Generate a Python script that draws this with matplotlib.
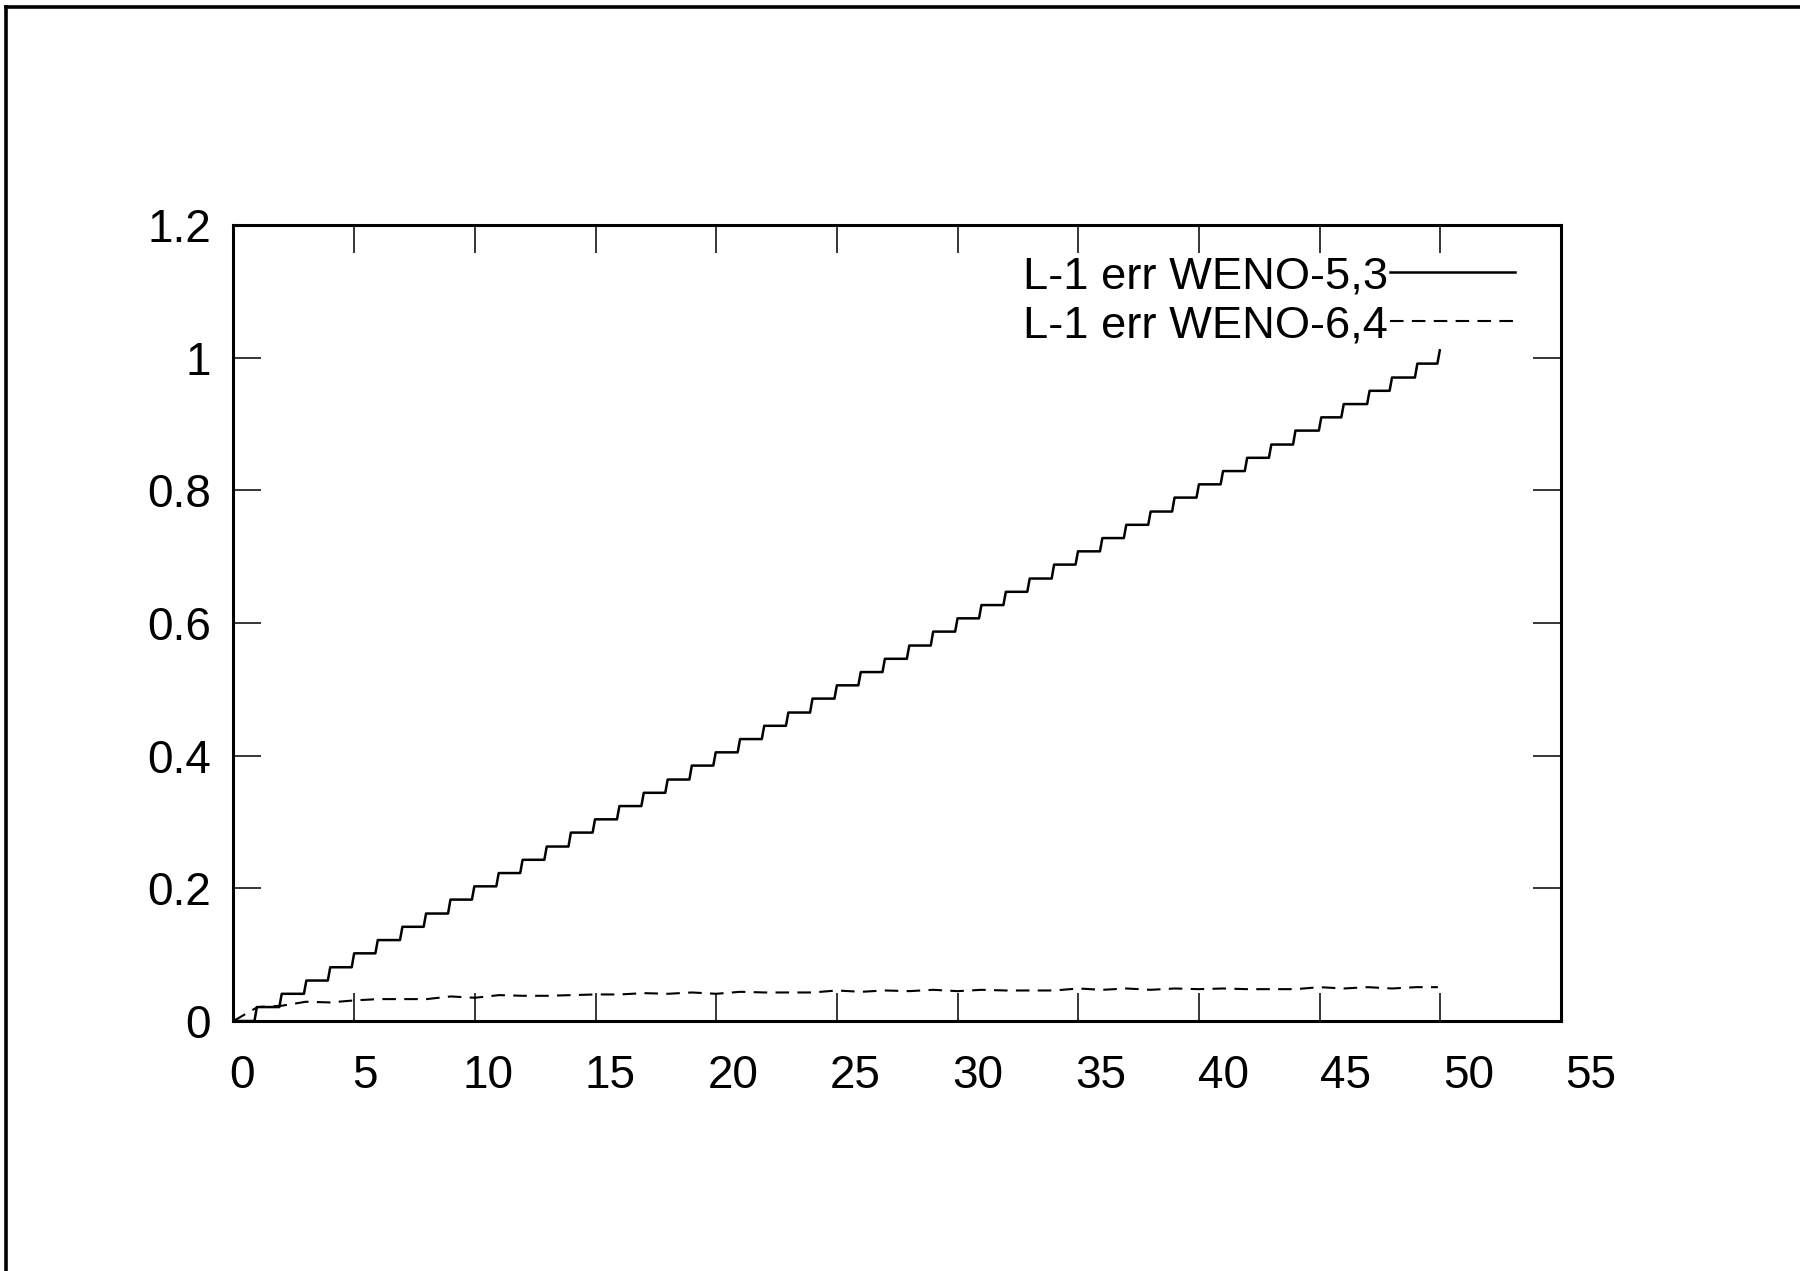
import matplotlib
matplotlib.use("Agg")
import matplotlib.pyplot as plt
import matplotlib.transforms as mtransforms
from matplotlib.lines import Line2D
from matplotlib.ticker import FormatStrFormatter

plt.rcParams['font.family'] = ['Liberation Sans', 'DejaVu Sans']

# L-1 error of WENO-5,3: jump times and the level reached after each jump
weno53_jump_t = [0.92, 1.95, 2.97, 3.96, 4.95, 5.93, 6.95, 7.93, 8.94, 9.93,
                 10.94, 11.93, 12.93, 13.93, 14.93, 15.94, 16.95, 17.94, 18.94, 19.93,
                 20.94, 21.94, 22.94, 23.94, 24.95, 25.94, 26.94, 27.95, 28.94, 29.95,
                 30.94, 31.95, 32.94, 33.95, 34.94, 35.95, 36.94, 37.95, 38.94, 39.95,
                 40.95, 41.95, 42.95, 43.95, 45.02, 45.95, 47.02, 47.95, 49.00, 49.93]
weno53_level = [0.021, 0.041, 0.061, 0.081, 0.102, 0.122, 0.142, 0.162, 0.183, 0.203,
                0.223, 0.243, 0.263, 0.284, 0.304, 0.324, 0.344, 0.364, 0.385, 0.405,
                0.425, 0.445, 0.465, 0.486, 0.506, 0.526, 0.546, 0.566, 0.587, 0.607,
                0.627, 0.647, 0.667, 0.688, 0.708, 0.728, 0.748, 0.768, 0.789, 0.809,
                0.829, 0.849, 0.869, 0.890, 0.910, 0.930, 0.950, 0.970, 0.991, 1.011]

# L-1 error of WENO-6,4
weno64_t = [0, 1, 2, 3, 4, 5, 6, 7, 8, 9, 10, 11, 12, 13, 14, 15, 16, 17, 18, 19,
            20, 21, 22, 23, 24, 25, 26, 27, 28, 29, 30, 31, 32, 33, 34, 35, 36, 37,
            38, 39, 40, 41, 42, 43, 44, 45, 46, 47, 48, 49, 49.9]
weno64_err = [0.0, 0.021, 0.023, 0.029, 0.028, 0.031, 0.033, 0.033, 0.033, 0.037,
              0.035, 0.039, 0.038, 0.038, 0.039, 0.040, 0.040, 0.042, 0.041, 0.043,
              0.041, 0.044, 0.043, 0.043, 0.043, 0.046, 0.044, 0.046, 0.045, 0.047,
              0.045, 0.047, 0.046, 0.046, 0.046, 0.049, 0.047, 0.049, 0.047, 0.049,
              0.048, 0.049, 0.048, 0.048, 0.048, 0.051, 0.049, 0.051, 0.049, 0.051,
              0.051]

x_ticks = [0, 5, 10, 15, 20, 25, 30, 35, 40, 45, 50, 55]
y_ticks = [0, 0.2, 0.4, 0.6, 0.8, 1.0, 1.2]

# build the staircase: flat between samples, short slanted riser at each jump
step_x, step_y = [0.0], [0.0]
prev = 0.0
for t, lvl in zip(weno53_jump_t, weno53_level):
    step_x += [t - 0.05, t + 0.05]
    step_y += [prev, lvl]
    prev = lvl

fig = plt.figure(figsize=(18, 12.71), dpi=100)
ax = fig.add_axes([0.1297, 0.1967, 0.7375, 0.6263])

ax.plot(step_x, step_y, color='black', lw=1.8, label='L-1 err WENO-5,3')
ax.plot(weno64_t, weno64_err, color='black', lw=1.5, dashes=(6.5, 4),
        label='L-1 err WENO-6,4')

ax.set_xlim(0, 55)
ax.set_ylim(0, 1.2)
ax.set_xticks(x_ticks)
ax.set_yticks(y_ticks)
ax.yaxis.set_major_formatter(FormatStrFormatter('%g'))
ax.tick_params(direction='in', length=20, width=1.1, top=True, right=True,
               labelsize=33, colors='black')
ax.tick_params(axis='x', pad=24)
ax.tick_params(axis='y', pad=16)
for s in ax.spines.values():
    s.set_linewidth(2.2)

# tick labels drift slightly right along the axis
for val, lab in zip(x_ticks, ax.get_xticklabels()):
    shift = (9 + 21 * val / 55) / 100
    lab.set_transform(lab.get_transform() +
                      mtransforms.ScaledTranslation(shift, 0, fig.dpi_scale_trans))

leg = ax.legend(loc='upper right', bbox_to_anchor=(0.9653, 0.961),
                frameon=False, markerfirst=False, fontsize=32.6,
                handlelength=2.75, handletextpad=0.05, labelspacing=0.18,
                borderpad=0, borderaxespad=0)

# page frame along the top and left edges
fig.add_artist(Line2D([0.0036, 1.0], [0.9946, 0.9946], transform=fig.transFigure,
                      color='black', lw=2.6))
fig.add_artist(Line2D([0.0036, 0.0036], [0.0, 0.9946], transform=fig.transFigure,
                      color='black', lw=2.6))

fig.savefig('out.png', dpi=100)
